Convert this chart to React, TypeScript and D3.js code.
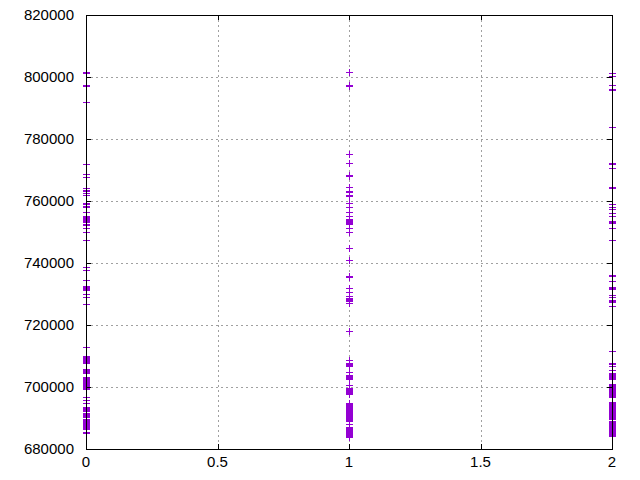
import React, { useRef, useEffect } from 'react';
import * as d3 from 'd3';

// x positions of the three columns
const xCategories = [0, 1, 2];

// values, one array per column (dense clusters listed mark by mark)
const col0Values = [
  801600, 801300, 797400, 797100, 792000, 771900, 768600, 767800, 764300, 763500, 762700,
  761900, 763200, 759500, 759200, 758900, 758500, 758200, 756500, 755300, 755000, 754600,
  754300, 754000, 753700, 753400, 753100, 752700, 752400, 751400, 750100, 747400, 738600,
  737700, 734500, 732600, 732300, 731900, 731600, 731300, 730000, 728900, 726800, 712800,
  710000, 709700, 709400, 709000, 708700, 708400, 708100, 707800, 705700, 705400, 705100,
  704800, 704600, 703300, 703000, 702700, 702300, 702000, 701700, 701400, 701000, 700700,
  700400, 700100, 699700, 699400, 696700, 695800, 694900, 693500, 693200, 692900, 692500,
  692300, 691500, 691200, 690900, 690600, 690300, 689600, 689300, 689000, 688700, 688400,
  688000, 687700, 687400, 687100, 686800, 686400, 685600, 685100,
];
const col1Values = [
  801500, 797400, 797100, 775100, 772200, 768400, 768100, 764600, 763200, 762900, 761600,
  761900, 759200, 758000, 756500, 755300, 754100, 753800, 753500, 753200, 752800, 752500,
  751200, 749900, 744700, 741000, 735900, 735600, 732000, 730500, 729200, 728800, 728500,
  728200, 727900, 727600, 727000, 718100, 708700, 707700, 707400, 707100, 706800, 704900,
  703900, 703500, 703200, 702900, 702600, 700600, 699600, 699200, 698900, 698600, 698300,
  698000, 697700, 694700, 694400, 694100, 693800, 693500, 693200, 692800, 692500, 692200,
  691900, 691600, 691300, 690900, 690600, 690300, 690000, 689700, 689400, 688900, 688100,
  687200, 686700, 686400, 686100, 685700, 685400, 685100, 684800, 684500, 684200, 683900,
];
const col2Values = [
  801200, 800300, 797400, 796100, 795800, 783800, 772200, 771900, 770500, 764600, 764300,
  759000, 758200, 757300, 756200, 755300, 753700, 753400, 753100, 752800, 751200, 747400,
  736100, 735800, 734300, 732400, 732000, 731700, 729700, 728900, 728100, 727700, 727400,
  726000, 711700, 707800, 707300, 706900, 705500, 704400, 704100, 703800, 703500, 703200,
  702900, 702600, 701000, 700700, 700300, 700000, 699700, 699400, 699000, 698700, 698400,
  698100, 697700, 697400, 697100, 696800, 695300, 695000, 694700, 694400, 694100, 693800,
  693400, 693100, 692800, 692500, 692200, 691900, 691500, 691200, 690900, 690600, 690300,
  690000, 689600, 689100, 688800, 688400, 688100, 687800, 687500, 687200, 686900, 686500,
  686200, 685900, 685600, 685100, 684800, 684500, 684100,
];

const xTicks = [0, 0.5, 1, 1.5, 2];
const yTicks = [680000, 700000, 720000, 740000, 760000, 780000, 800000, 820000];

const W = 640;
const H = 480;
const left = 86;
const right = 612;
const top = 15;
const bottom = 449;
const color = '#9400d3';

export default function App() {
  const svgRef = useRef<SVGSVGElement | null>(null);

  useEffect(() => {
    const svg = d3.select(svgRef.current);
    svg.selectAll('*').remove();

    const x = d3.scaleLinear().domain([0, 2]).range([left, right]);
    const y = d3.scaleLinear().domain([680000, 820000]).range([bottom, top]);
    const px = (v: number) => Math.round(x(v)) + 0.5;
    const py = (v: number) => Math.round(y(v)) + 0.5;

    // grid
    const grid = svg.append('g');
    grid
      .selectAll('.gx')
      .data(xTicks.slice(1, -1))
      .join('line')
      .attr('x1', px)
      .attr('x2', px)
      .attr('y1', top)
      .attr('y2', bottom)
      .attr('stroke', '#a0a0a0')
      .attr('stroke-dasharray', '2,3');
    grid
      .selectAll('.gy')
      .data(yTicks.slice(1, -1))
      .join('line')
      .attr('y1', py)
      .attr('y2', py)
      .attr('x1', left)
      .attr('x2', right)
      .attr('stroke', '#a0a0a0')
      .attr('stroke-dasharray', '2,3');

    // points as '+' marks
    const cols = [col0Values, col1Values, col2Values];
    const pts: [number, number][] = [];
    cols.forEach((vals, i) => vals.forEach(v => pts.push([xCategories[i], v])));
    const s = 3.5;
    svg
      .append('g')
      .selectAll('path')
      .data(pts)
      .join('path')
      .attr('d', d => {
        const cx = Math.round(x(d[0])) + 0.5;
        const cy = Math.round(y(d[1])) + 0.5;
        return `M${cx - s},${cy}H${cx + s}M${cx},${cy - s}V${cy + s}`;
      })
      .attr('stroke', color)
      .attr('stroke-width', 1)
      .attr('fill', 'none');

    // border and ticks
    const ax = svg.append('g').attr('stroke', '#000').attr('stroke-width', 1);
    ax.append('rect')
      .attr('x', left + 0.5)
      .attr('y', top + 0.5)
      .attr('width', right - left)
      .attr('height', bottom - top)
      .attr('fill', 'none');
    const tl = 5;
    yTicks.forEach(v => {
      ax.append('line').attr('x1', left).attr('x2', left + tl).attr('y1', py(v)).attr('y2', py(v));
      ax.append('line').attr('x1', right - tl).attr('x2', right).attr('y1', py(v)).attr('y2', py(v));
    });
    xTicks.forEach(v => {
      ax.append('line').attr('x1', px(v)).attr('x2', px(v)).attr('y1', bottom).attr('y2', bottom - tl);
      ax.append('line').attr('x1', px(v)).attr('x2', px(v)).attr('y1', top).attr('y2', top + tl);
    });

    // labels
    const font = 'Liberation Sans, Arial, sans-serif';
    svg
      .append('g')
      .selectAll('text')
      .data(yTicks)
      .join('text')
      .attr('x', 74)
      .attr('y', d => y(d))
      .attr('dy', '0.3em')
      .attr('text-anchor', 'end')
      .attr('font-family', font)
      .attr('font-size', 15)
      .text(d => String(d));
    svg
      .append('g')
      .selectAll('text')
      .data(xTicks)
      .join('text')
      .attr('x', d => x(d))
      .attr('y', 467)
      .attr('text-anchor', 'middle')
      .attr('font-family', font)
      .attr('font-size', 15)
      .text(d => String(d));
  }, []);

  return (
    <svg
      ref={svgRef}
      width={W}
      height={H}
      style={{ position: 'absolute', left: 0, top: 0, background: '#fff' }}
    />
  );
}
